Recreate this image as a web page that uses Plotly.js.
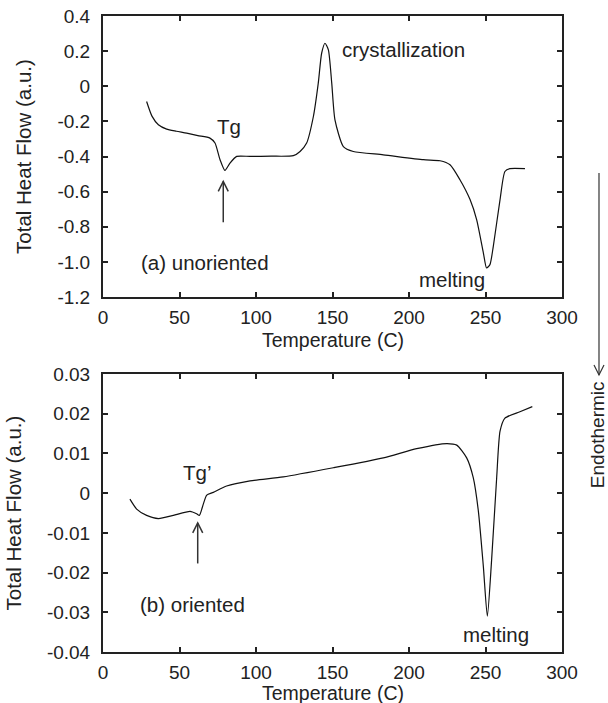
<!DOCTYPE html>
<html>
<head>
<meta charset="utf-8">
<script src="https://cdn.plot.ly/plotly-3.0.1.min.js"></script>
<style>html,body{margin:0;padding:0;background:#fff;}#chart{width:608px;height:703px;}</style>
</head>
<body>
<div id="chart"></div>
<script>
// (a) unoriented
const tempA = [28.5, 32, 36.2, 41.6, 48, 54.7, 62, 69.9, 73.2, 76.5, 79.7, 83, 87.4, 96, 110, 124.4, 128.8, 133.1, 137.5, 140.7, 142.9, 145.1, 147.3, 149.5, 151.6, 157.1, 163.6, 183.2, 209.4, 220.3, 226.8, 233.3, 239.9, 244.2, 248.6, 250.7, 252.9, 255.1, 259.5, 262.7, 266, 275.8];
const flowA = [-0.087, -0.17, -0.219, -0.244, -0.256, -0.267, -0.281, -0.295, -0.323, -0.418, -0.479, -0.437, -0.399, -0.399, -0.398, -0.395, -0.371, -0.323, -0.172, 0.018, 0.188, 0.245, 0.207, 0.018, -0.191, -0.343, -0.371, -0.390, -0.418, -0.424, -0.447, -0.532, -0.645, -0.759, -0.948, -1.034, -1.015, -0.911, -0.645, -0.485, -0.469, -0.469];
// (b) oriented
const tempB = [17.6, 22, 28.5, 36.2, 46, 56.9, 61.2, 63, 65.6, 67.8, 72.1, 80.8, 96.1, 117.8, 150.5, 183.2, 205, 224.6, 231.2, 237.7, 242, 245.3, 248.6, 251.2, 254, 257.3, 259.5, 262.7, 272.5, 280.6];
const flowB = [-0.0015, -0.004, -0.0056, -0.0064, -0.0056, -0.0046, -0.0052, -0.0056, -0.0027, -0.0005, 0.0002, 0.0018, 0.0031, 0.0041, 0.0064, 0.0089, 0.0112, 0.0125, 0.0121, 0.0089, 0.0039, -0.0044, -0.0185, -0.031, -0.0168, 0.0039, 0.0156, 0.0189, 0.0205, 0.0218];

const xTicks = [0, 50, 100, 150, 200, 250, 300];
const yTicksA = [0.4, 0.2, 0, -0.2, -0.4, -0.6, -0.8, -1.0, -1.2];
const yTickTextA = ["0.4", "0.2", "0", "-0.2", "-0.4", "-0.6", "-0.8", "-1.0", "-1.2"];
const yTicksB = [0.03, 0.02, 0.01, 0, -0.01, -0.02, -0.03, -0.04];
const yTickTextB = ["0.03", "0.02", "0.01", "0", "-0.01", "-0.02", "-0.03", "-0.04"];
const xTitle = "Temperature (C)";
const yTitle = "Total Heat Flow (a.u.)";

const FONT = "Liberation Sans, Arial, Helvetica, sans-serif";
const INK = "#222";

function xAxis(anchor) {
  return {
    range: [0, 300], tickvals: xTicks, ticktext: xTicks.map(String),
    ticks: "inside", ticklen: 5, tickwidth: 2, tickcolor: INK,
    showline: true, linewidth: 2, linecolor: INK, mirror: "ticks",
    showgrid: false, zeroline: false, anchor: anchor,
    ticklabelstandoff: 2,
    tickfont: {size: 19, color: INK, family: FONT},
    automargin: false
  };
}
function yAxis(range, vals, text, dom, anchor) {
  return {
    range: range, tickvals: vals, ticktext: text, domain: dom, anchor: anchor,
    ticks: "inside", ticklen: 5, tickwidth: 2, tickcolor: INK,
    showline: true, linewidth: 2, linecolor: INK, mirror: "ticks",
    showgrid: false, zeroline: false,
    ticklabelstandoff: 7,
    tickfont: {size: 19, color: INK, family: FONT},
    title: {text: yTitle, font: {size: 20.5, color: INK, family: FONT}, standoff: 20},
    automargin: false
  };
}

const traces = [
  {x: tempA, y: flowA, xaxis: "x", yaxis: "y", mode: "lines", line: {color: "#111", width: 1.2, shape: "spline", smoothing: 0.6}, hoverinfo: "skip"},
  {x: tempB, y: flowB, xaxis: "x2", yaxis: "y2", mode: "lines", line: {color: "#111", width: 1.2, shape: "spline", smoothing: 0.6}, hoverinfo: "skip"}
];

function txt(x, y, t, xref, yref, extra) {
  return Object.assign({x: x, y: y, text: t, xref: xref, yref: yref, showarrow: false,
    xanchor: "center", yanchor: "middle",
    font: {size: 20.5, color: INK, family: FONT}}, extra || {});
}

const annotations = [
  txt(82.6, -0.229, "Tg", "x", "y"),
  txt(196.7, 0.211, "crystallization", "x", "y"),
  txt(66.5, -1.005, "(a) unoriented", "x", "y"),
  txt(228, -1.1, "melting", "x", "y"),
  txt(61.2, 0.0052, "Tg’", "x2", "y2"),
  txt(58.7, -0.028, "(b) oriented", "x2", "y2"),
  txt(257, -0.0355, "melting", "x2", "y2"),
  txt(0.501, 0.4906, xTitle, "paper", "paper", {font: {size: 19.5, color: INK, family: FONT}}),
  txt(0.501, -0.0645, xTitle, "paper", "paper", {font: {size: 19.5, color: INK, family: FONT}}),
  txt(1.0763, 0.341, "Endothermic", "paper", "paper", {textangle: -90, font: {size: 19, color: INK, family: FONT}})
];

const shapes = [
  {type: "line", xref: "x", yref: "y", x0: 78.6, x1: 78.6, y0: -0.774, y1: -0.541, line: {color: "#333", width: 1.5}},
  {type: "path", xref: "x", yref: "y", xsizemode: "pixel", ysizemode: "pixel", xanchor: 78.6, yanchor: -0.541,
   path: "M -5 -10 L 0 0 L 5 -10", line: {color: "#333", width: 1.5}},
  {type: "line", xref: "x2", yref: "y2", x0: 61.9, x1: 61.9, y0: -0.0177, y1: -0.0075, line: {color: "#333", width: 1.5}},
  {type: "path", xref: "x2", yref: "y2", xsizemode: "pixel", ysizemode: "pixel", xanchor: 61.9, yanchor: -0.0075,
   path: "M -5 -10 L 0 0 L 5 -10", line: {color: "#333", width: 1.5}},
  {type: "line", xref: "paper", yref: "paper", x0: 1.0806, x1: 1.0806, y0: 0.753, y1: 0.4355, line: {color: "#333", width: 1.2}},
  {type: "path", xref: "paper", yref: "paper", xsizemode: "pixel", ysizemode: "pixel", xanchor: 1.0806, yanchor: 0.4355,
   path: "M -5 10 L 0 0 L 5 10", line: {color: "#333", width: 1.2}}
];

const layout = {
  width: 608, height: 703,
  margin: {l: 103, r: 46, t: 16, b: 51},
  paper_bgcolor: "#fff", plot_bgcolor: "#fff",
  showlegend: false,
  font: {family: FONT, color: INK},
  xaxis: xAxis("y"),
  yaxis: yAxis([-1.2, 0.4], yTicksA, yTickTextA, [0.558, 1], "x"),
  xaxis2: xAxis("y2"),
  yaxis2: yAxis([-0.04, 0.03], yTicksB, yTickTextB, [0, 0.437], "x2"),
  annotations: annotations,
  shapes: shapes
};

Plotly.newPlot("chart", traces, layout, {staticPlot: true, displayModeBar: false});
</script>
</body>
</html>
